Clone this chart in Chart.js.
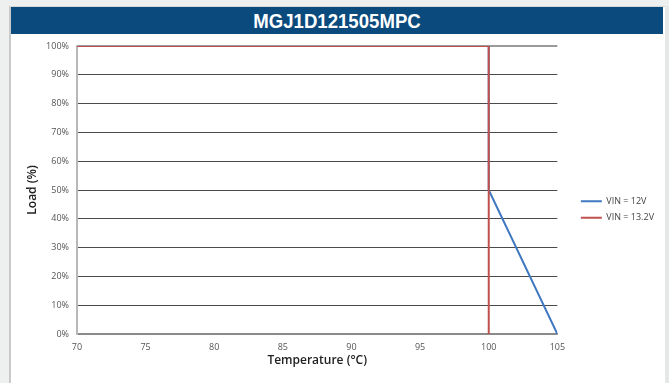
<!DOCTYPE html>
<html>
<head>
<meta charset="utf-8">
<script src="https://cdn.jsdelivr.net/npm/chart.js@4.4.1/dist/chart.umd.min.js"></script>
<style>
html,body{margin:0;padding:0;background:#eef0ef;width:669px;height:383px;overflow:hidden;}
#panel{position:absolute;left:9px;top:6px;width:654px;height:380px;background:#fff;border-left:2px solid #c9cbca;border-right:2px solid #c9cbca;border-top:1px solid #d5d7d6;}
#outerR{position:absolute;left:665px;top:6px;width:4px;height:377px;background:#e6e8e7;}
#head{position:absolute;left:0;top:0;width:652px;height:27px;background:#0b4a7d;}
#title{position:absolute;left:0;top:0;width:652px;text-align:center;color:#fff;
 font-family:"Liberation Sans",Arial,sans-serif;font-weight:bold;font-size:20px;line-height:28px;transform:scaleX(0.93);transform-origin:326px 0;}
#wrap{position:absolute;left:11px;top:35px;width:652px;height:348px;}
</style>
</head>
<body>
<div id="panel"><div id="head"><div id="title"></div></div></div>
<div id="outerR"></div>
<div id="wrap"><canvas id="c" width="652" height="348"></canvas></div>
<script>
const chartTitle = "MGJ1D121505MPC";
const seriesNames = ["VIN = 12V", "VIN = 13.2V"];
const temps12 = [70, 100, 100, 105];
const load12 = [100, 100, 50, 0];
const temps132 = [70, 100, 100];
const load132 = [100, 100, 0];
const xTicks = [70, 75, 80, 85, 90, 95, 100, 105];
const yTicks = [0, 10, 20, 30, 40, 50, 60, 70, 80, 90, 100];

document.getElementById('title').textContent = chartTitle;

const toPts = (xs, ys) => xs.map((x, i) => ({x: x, y: ys[i]}));

const shiftLegend = {
  id: 'shiftLegend',
  afterLayout(chart) {
    const lg = chart.legend;
    if (!lg) return;
    const dx = 16, dy = -5;
    lg.left += dx; lg.right += dx;
    lg.top += dy; lg.bottom += dy;
  }
};

new Chart(document.getElementById('c'), {
  type: 'line',
  data: {
    datasets: [
      {label: seriesNames[0], data: toPts(temps12, load12), borderColor: '#3f78c0', backgroundColor: '#3f78c0', borderWidth: 2, pointRadius: 0, tension: 0, order: 2},
      {label: seriesNames[1], data: toPts(temps132, load132), borderColor: '#c0504d', backgroundColor: '#c0504d', borderWidth: 2, pointRadius: 0, tension: 0, order: 1}
    ]
  },
  options: {
    responsive: false,
    animation: false,
    devicePixelRatio: 1,
    layout: {padding: {left: 0, top: 11, right: 15, bottom: 0}},
    plugins: {
      legend: {
        position: 'right',
        labels: {
          boxWidth: 21, boxHeight: 2, padding: 7.5,
          color: '#444',
          font: {family: "'Open Sans', sans-serif", size: 9},
          sort: (a, b) => a.datasetIndex - b.datasetIndex,
          generateLabels: chart => Chart.defaults.plugins.legend.labels.generateLabels(chart).map(l => Object.assign(l, {lineWidth: 0}))
        }
      },
      tooltip: {enabled: false}
    },
    scales: {
      x: {
        type: 'linear', min: 70, max: 105,
        afterBuildTicks: s => { s.ticks = xTicks.map(v => ({value: v})); },
        afterFit: s => { s.height = 49; },
        grid: {display: false, drawTicks: false},
        border: {display: true, color: '#8a8a8a', width: 1.5},
        ticks: {color: '#555', padding: 8, font: {family: "'Open Sans', sans-serif", size: 9}, maxRotation: 0},
        title: {display: true, text: 'Temperature (°C)', color: '#222', font: {family: "'Open Sans', sans-serif", size: 12, weight: '600'}, padding: {top: 4, bottom: 15}}
      },
      y: {
        type: 'linear', min: 0, max: 100,
        afterBuildTicks: s => { s.ticks = yTicks.map(v => ({value: v})); },
        afterFit: s => { s.width = 66; s.paddingTop = 0; },
        grid: {
          drawTicks: false,
          color: ctx => ctx.tick && ctx.tick.value === 100 ? '#9a9a9a' : (ctx.tick && ctx.tick.value === 0 ? '#8a8a8a' : '#4a4a4a'),
          lineWidth: ctx => ctx.tick && ctx.tick.value === 100 ? 2 : 1
        },
        border: {display: true, color: '#b8b8b8', width: 2},
        ticks: {color: '#555', padding: 8, font: {family: "'Open Sans', sans-serif", size: 9}, callback: v => v + '%'},
        title: {display: true, text: 'Load (%)', color: '#222', font: {family: "'Open Sans', sans-serif", size: 12, weight: '600'}, padding: {top: 14, bottom: 0}}
      }
    }
  },
  plugins: [shiftLegend]
});
</script>
</body>
</html>
